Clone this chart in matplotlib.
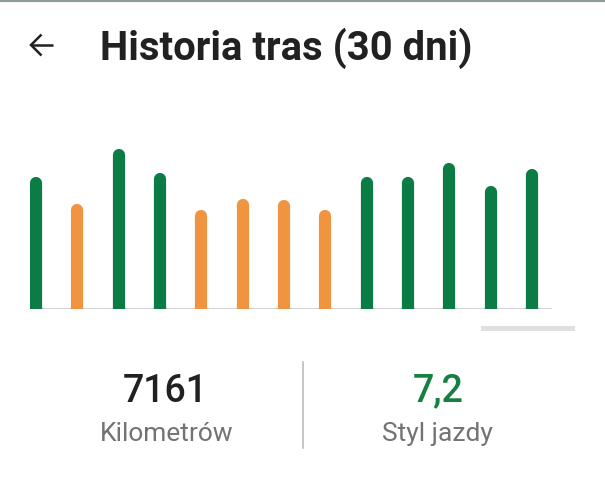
import matplotlib
matplotlib.use("Agg")
import matplotlib.pyplot as plt
from matplotlib.patches import Rectangle
from matplotlib.lines import Line2D
import numpy as np

# ---- data ----
days = list(range(13))
values = [132, 105, 160, 136, 99, 110, 109, 99, 132, 132, 146, 123, 140]
styles = ["good", "bad", "good", "good", "bad", "bad", "bad", "bad",
          "good", "good", "good", "good", "good"]
title = "Historia tras (30 dni)"
km_value = "7161"
km_label = "Kilometrów"
style_value = "7,2"
style_label = "Styl jazdy"

GREEN = "#0b7c44"
ORANGE = "#f1943f"
colors = {"good": GREEN, "bad": ORANGE}

W, H = 605, 487
fig = plt.figure(figsize=(W / 100, H / 100), dpi=100)
plt.rcParams['font.family'] = ['Roboto', 'DejaVu Sans']

def fx(px):
    return px / W

def fy(py):
    return 1 - py / H

# top thin separator
fig.add_artist(Line2D([0, 1], [fy(0.7), fy(0.7)], color="#8c9b9b", lw=1.5))

# back arrow
ac = "#212121"
fig.add_artist(Line2D([fx(31), fx(53)], [fy(45), fy(45)], color=ac, lw=1.8, solid_capstyle="butt"))
fig.add_artist(Line2D([fx(41.5), fx(31), fx(41.5)], [fy(34.5), fy(45), fy(55.5)], color=ac, lw=1.8,
                      solid_joinstyle="miter", solid_capstyle="butt"))

fig.text(fx(100), fy(59.5), title, fontsize=28.8, fontweight="bold", color="#212121",
         ha="left", va="baseline")

# bar chart axes
left, right, base, top = 30, 552, 309, 140
ax = fig.add_axes([fx(left), fy(base), fx(right - left), (base - top) / H])
ax.set_xlim(-0.145, 12.484)
ax.set_ylim(0, base - top)
ax.axis("off")
ax.axhline(0, color="#d3d3d3", lw=1.6, zorder=1)

bar_px = 12.2
r_data = (bar_px / 2)  # 1 data unit == 1 px vertically
for d, v, s in zip(days, values, styles):
    ax.vlines(d, 0, v - r_data, colors=colors[s], lw=bar_px * 0.72,
              capstyle="round", zorder=2)
    ax.vlines(d, -10, 0 + 1, colors=colors[s], lw=bar_px * 0.72, zorder=2)

# scroll indicator
fig.add_artist(Rectangle((fx(481), fy(331)), fx(94), (331 - 325.5) / H,
                         facecolor="#e0e0e0", edgecolor="none"))

# stats
fig.text(fx(165), fy(401.5), km_value, fontsize=27, fontweight="medium", color="#212121",
         ha="center", va="baseline")
fig.text(fx(166.5), fy(441), km_label, fontsize=19, color="#737373",
         ha="center", va="baseline")
fig.text(fx(438), fy(401.5), style_value, fontsize=27, fontweight="medium", color="#15803f",
         ha="center", va="baseline")
fig.text(fx(437.5), fy(441), style_label, fontsize=19, color="#737373",
         ha="center", va="baseline")

fig.add_artist(Line2D([fx(303), fx(303)], [fy(362), fy(448)], color="#bdbdbd", lw=1.2))

fig.savefig("out.png", dpi=100)
